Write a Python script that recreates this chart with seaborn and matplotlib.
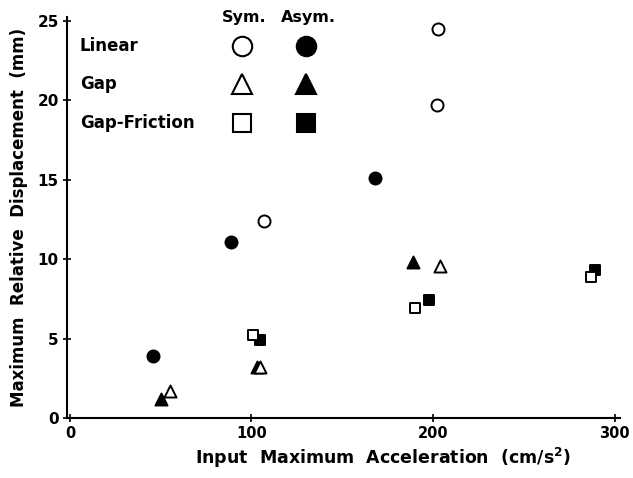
import pandas as pd
import matplotlib
matplotlib.use('Agg')
import matplotlib.pyplot as plt
import seaborn as sns

# Datos (aceleracion en cm/s2, desplazamiento en mm)
lineal_sim_x = [107, 202, 203]
lineal_sim_y = [12.4, 19.7, 24.5]
lineal_asim_x = [46, 89, 168]
lineal_asim_y = [3.9, 11.1, 15.1]
gap_sim_x = [55, 105, 204]
gap_sim_y = [1.7, 3.2, 9.6]
gap_asim_x = [50, 103, 189]
gap_asim_y = [1.2, 3.2, 9.8]
gf_sim_x = [101, 190, 287]
gf_sim_y = [5.2, 6.9, 8.9]
gf_asim_x = [105, 198, 289]
gf_asim_y = [4.9, 7.4, 9.3]

modelos = ['Linear', 'Gap', 'Gap-Friction']
marcadores = {'Linear': 'o', 'Gap': '^', 'Gap-Friction': 's'}
xticks = [0, 100, 200, 300]
yticks = [0, 5, 10, 15, 20, 25]

filas = []
series = [
    ('Linear', 'Sym.', lineal_sim_x, lineal_sim_y),
    ('Linear', 'Asym.', lineal_asim_x, lineal_asim_y),
    ('Gap', 'Sym.', gap_sim_x, gap_sim_y),
    ('Gap', 'Asym.', gap_asim_x, gap_asim_y),
    ('Gap-Friction', 'Sym.', gf_sim_x, gf_sim_y),
    ('Gap-Friction', 'Asym.', gf_asim_x, gf_asim_y),
]
for modelo, caso, xs, ys in series:
    for x, y in zip(xs, ys):
        filas.append({'Modelo': modelo, 'Caso': caso, 'Acel': x, 'Desp': y})
df = pd.DataFrame(filas)

sns.set_style('ticks')
plt.rcParams['font.family'] = ['DejaVu Sans']
plt.rcParams['font.weight'] = 'bold'
plt.rcParams['mathtext.default'] = 'bf'
for clave in ['text.color', 'axes.labelcolor', 'xtick.color', 'ytick.color',
              'axes.edgecolor']:
    plt.rcParams[clave] = 'black'

fig = plt.figure(figsize=(6.33, 4.78), dpi=100)
ax = fig.add_axes([0.1058, 0.1255, 0.8736, 0.839])

for (modelo, caso), grupo in df.groupby(['Modelo', 'Caso']):
    relleno = 'white' if caso == 'Sym.' else 'black'
    tam = 75 if marcadores[modelo] != 's' else 60
    sns.scatterplot(data=grupo, x='Acel', y='Desp', marker=marcadores[modelo],
                    color=relleno, edgecolor='black', linewidth=1.4, s=tam,
                    ax=ax, zorder=3, legend=False)

ax.set_xlim(-1.6, 303)
ax.set_ylim(0, 25.25)
ax.set_xticks(xticks)
ax.set_yticks(yticks)
sns.despine(ax=ax)
for lado in ['left', 'bottom']:
    ax.spines[lado].set_linewidth(1.5)
    ax.spines[lado].set_color('black')
ax.tick_params(axis='both', direction='inout', length=6, width=1.2,
               pad=3, colors='black')
ax.tick_params(axis='x', labelsize=10.5)
ax.tick_params(axis='y', labelsize=11)
for t in ax.get_xticklabels() + ax.get_yticklabels():
    t.set_fontweight('bold')

ax.set_xlabel('Input  Maximum  Acceleration  (cm/s$^2$)', fontsize=12.5,
              fontweight='bold')
ax.set_ylabel('Maximum  Relative  Displacement  (mm)', fontsize=12,
              fontweight='bold')
ax.xaxis.set_label_coords(0.571, -0.07)
ax.yaxis.set_label_coords(-0.07, 0.5)

# Leyenda hecha a mano: nombres a la izquierda, dos columnas de simbolos
ax.text(0.321, 0.998, 'Sym.', transform=ax.transAxes, ha='center', va='center',
        fontsize=11.5, fontweight='bold')
ax.text(0.437, 0.998, 'Asym.', transform=ax.transAxes, ha='center', va='center',
        fontsize=11.5, fontweight='bold')
y_filas = [0.928, 0.833, 0.736]
for modelo, yf in zip(modelos, y_filas):
    ax.text(0.0235, yf, modelo, transform=ax.transAxes, ha='left', va='center',
            fontsize=12, fontweight='bold')
    ms = 14 if marcadores[modelo] != 's' else 13
    ax.plot([0.316], [yf], marker=marcadores[modelo], ms=ms, mfc='white', mec='black',
            mew=1.5, transform=ax.transAxes, clip_on=False, linestyle='none')
    ax.plot([0.432], [yf], marker=marcadores[modelo], ms=ms, mfc='black', mec='black',
            mew=1.5, transform=ax.transAxes, clip_on=False, linestyle='none')

fig.savefig('out.png', dpi=100)
